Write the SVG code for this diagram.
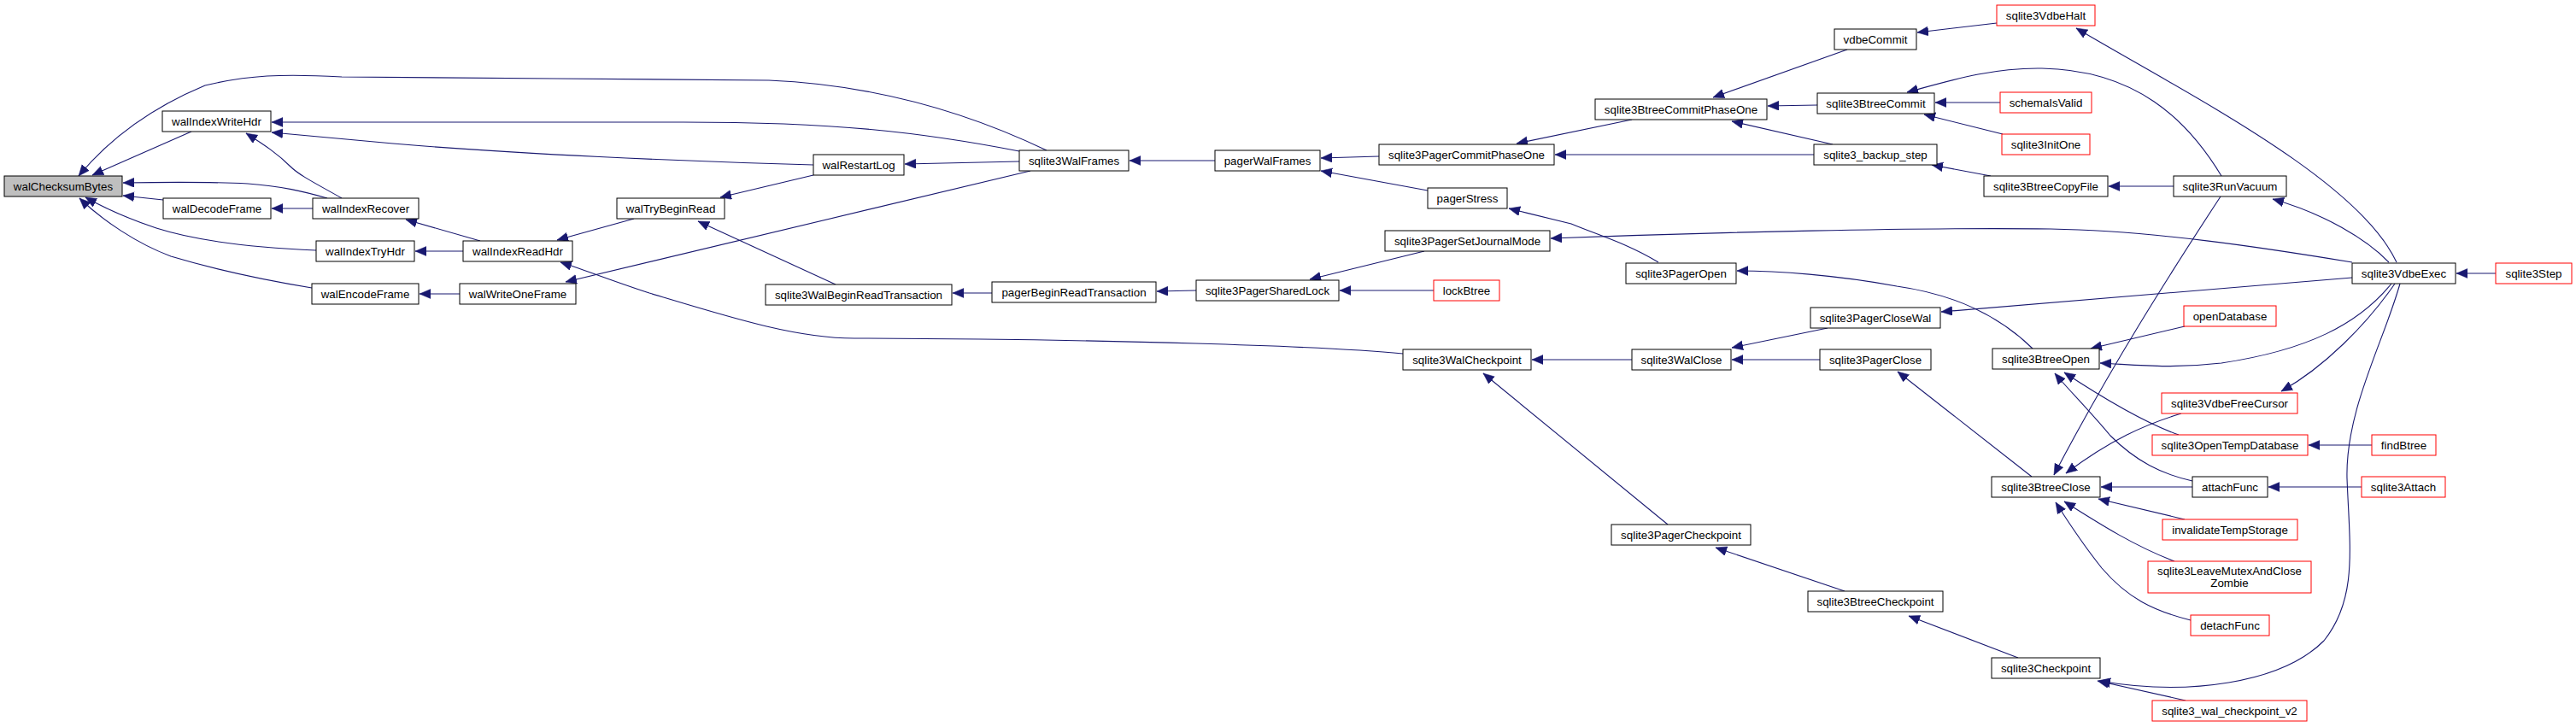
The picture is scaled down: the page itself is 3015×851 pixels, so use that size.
<svg xmlns="http://www.w3.org/2000/svg" width="3015" height="851" viewBox="0 0 3015 851">
<style>
.n rect{fill:#fff;stroke:#000;stroke-width:1}
.n.r rect{stroke:#ff0000}
.n.g rect{fill:#bfbfbf}
.n text{font-family:"Liberation Sans",Arial,sans-serif;font-size:13.33px;text-anchor:middle;fill:#000}
#edges path{fill:none;stroke:#191970;stroke-width:1.1;marker-end:url(#a)}
</style>
<defs>
<marker id="a" markerUnits="userSpaceOnUse" markerWidth="14" markerHeight="12" refX="13" refY="5.5" orient="auto">
<path d="M0,0 L13,5.5 L0,11 z" fill="#191970" stroke="#191970" stroke-width="0.5"/>
</marker>
</defs>
<rect width="3015" height="851" fill="#fff"/>
<g id="edges">
<path d="M1225,176 C1150,140 1040,100 900,94 C800,92 500,92 400,90 C330,86 290,88 240,100 C180,125 130,160 92,206"/>
<path d="M224,154 L108,205"/>
<path d="M383,232 C355,224 330,218 290,215 C250,213 200,213 144,214"/>
<path d="M191,234 L144,229"/>
<path d="M370,293 C300,290 230,282 183,267 C150,256 125,245 100,231"/>
<path d="M365,337 C310,328 250,315 200,300 C160,285 120,258 93,232"/>
<path d="M1193,177 C1080,155 980,143 800,143 L318,143"/>
<path d="M952,193 C800,189 600,180 460,168 C390,162 350,158 318,155"/>
<path d="M400,232 C370,215 350,205 340,195 C325,180 310,170 288,156"/>
<path d="M366,244 L318,244"/>
<path d="M562,282 L475,257"/>
<path d="M542,294 L486,294"/>
<path d="M742,256 L652,281"/>
<path d="M1642,414 C1550,405 1300,397 1000,396 C930,396 850,370 760,343 C720,330 690,318 656,307"/>
<path d="M538,344 L491,344"/>
<path d="M1206,200 L662,330"/>
<path d="M952,205 L843,231"/>
<path d="M978,333 L817,259"/>
<path d="M1193,189 L1059,192"/>
<path d="M1161,343 L1115,343"/>
<path d="M1422,188 L1322,188"/>
<path d="M1400,340 L1354,341"/>
<path d="M1614,183 L1546,185"/>
<path d="M1671,223 L1546,200"/>
<path d="M1910,140 L1775,168"/>
<path d="M2123,181 L1820,181"/>
<path d="M1667,294 L1533,327"/>
<path d="M1678,340 L1568,340"/>
<path d="M1941,307 C1905,285 1870,275 1839,262 C1810,255 1790,250 1766,244"/>
<path d="M2753,307 C2650,290 2520,270 2400,268 C2250,266 2000,272 1815,279"/>
<path d="M1910,421 L1793,421"/>
<path d="M1952,614 L1736,437"/>
<path d="M2162,58 L2005,114"/>
<path d="M2127,123 L2069,124"/>
<path d="M2145,169 L2027,142"/>
<path d="M2337,27 L2244,38"/>
<path d="M2600,206 C2560,140 2500,82 2390,80 C2330,79 2280,95 2232,108"/>
<path d="M2341,120 L2265,120"/>
<path d="M2344,157 L2252,134"/>
<path d="M2330,206 L2261,193"/>
<path d="M2544,218 L2468,218"/>
<path d="M2805,307 C2760,210 2560,110 2430,33"/>
<path d="M2796,307 C2770,280 2720,250 2660,233"/>
<path d="M2599,230 C2540,320 2470,430 2404,556"/>
<path d="M2753,325 L2272,365"/>
<path d="M2379,408 C2340,370 2290,345 2220,335 C2150,322 2080,317 2033,317"/>
<path d="M2557,382 L2447,408"/>
<path d="M2799,332 C2760,380 2700,410 2600,425 C2540,432 2500,427 2458,425"/>
<path d="M2550,509 C2510,495 2460,465 2416,436"/>
<path d="M2566,563 C2530,555 2500,540 2470,510 C2445,480 2420,455 2405,437"/>
<path d="M2378,558 L2221,435"/>
<path d="M2139,384 L2027,407"/>
<path d="M2130,421 L2027,421"/>
<path d="M2159,692 L2008,641"/>
<path d="M2362,770 L2234,721"/>
<path d="M2809,332 C2790,400 2745,480 2747,560 C2750,640 2760,700 2720,750 C2670,800 2560,815 2457,797"/>
<path d="M2558,820 L2455,797"/>
<path d="M2553,484 C2510,497 2470,515 2418,554"/>
<path d="M2803,332 C2770,380 2720,430 2670,458"/>
<path d="M2566,570 L2459,570"/>
<path d="M2776,521 L2702,521"/>
<path d="M2764,570 L2655,570"/>
<path d="M2557,608 L2456,584"/>
<path d="M2545,657 C2500,640 2460,615 2416,587"/>
<path d="M2564,726 C2520,715 2490,700 2460,665 C2440,640 2420,610 2406,588"/>
<path d="M2921,320 L2875,320"/>
</g>
<g id="walChecksumBytes" class="n g"><rect x="5" y="206" width="138" height="24"/><text x="74" y="223">walChecksumBytes</text></g>
<g id="walIndexWriteHdr" class="n"><rect x="190" y="130" width="127" height="24"/><text x="253.5" y="147">walIndexWriteHdr</text></g>
<g id="walDecodeFrame" class="n"><rect x="191" y="232" width="126" height="24"/><text x="254" y="249">walDecodeFrame</text></g>
<g id="walIndexRecover" class="n"><rect x="366" y="232" width="124" height="24"/><text x="428" y="249">walIndexRecover</text></g>
<g id="walIndexTryHdr" class="n"><rect x="370" y="282" width="115" height="24"/><text x="427.5" y="299">walIndexTryHdr</text></g>
<g id="walEncodeFrame" class="n"><rect x="365" y="332" width="125" height="24"/><text x="427.5" y="349">walEncodeFrame</text></g>
<g id="walIndexReadHdr" class="n"><rect x="542" y="282" width="128" height="24"/><text x="606" y="299">walIndexReadHdr</text></g>
<g id="walWriteOneFrame" class="n"><rect x="538" y="332" width="136" height="24"/><text x="606" y="349">walWriteOneFrame</text></g>
<g id="walTryBeginRead" class="n"><rect x="722" y="232" width="126" height="24"/><text x="785" y="249">walTryBeginRead</text></g>
<g id="walRestartLog" class="n"><rect x="952" y="181" width="106" height="24"/><text x="1005" y="198">walRestartLog</text></g>
<g id="sqlite3WalFrames" class="n"><rect x="1193" y="176" width="128" height="24"/><text x="1257" y="193">sqlite3WalFrames</text></g>
<g id="sqlite3WalBeginReadTransaction" class="n"><rect x="896" y="333" width="218" height="24"/><text x="1005" y="350">sqlite3WalBeginReadTransaction</text></g>
<g id="pagerBeginReadTransaction" class="n"><rect x="1161" y="330" width="192" height="24"/><text x="1257" y="347">pagerBeginReadTransaction</text></g>
<g id="pagerWalFrames" class="n"><rect x="1422" y="176" width="123" height="24"/><text x="1483.5" y="193">pagerWalFrames</text></g>
<g id="sqlite3PagerSharedLock" class="n"><rect x="1400" y="328" width="167" height="24"/><text x="1483.5" y="345">sqlite3PagerSharedLock</text></g>
<g id="sqlite3PagerCommitPhaseOne" class="n"><rect x="1614" y="169" width="205" height="24"/><text x="1716.5" y="186">sqlite3PagerCommitPhaseOne</text></g>
<g id="pagerStress" class="n"><rect x="1671" y="220" width="93" height="24"/><text x="1717.5" y="237">pagerStress</text></g>
<g id="sqlite3PagerSetJournalMode" class="n"><rect x="1621" y="270" width="193" height="24"/><text x="1717.5" y="287">sqlite3PagerSetJournalMode</text></g>
<g id="lockBtree" class="n r"><rect x="1678" y="328" width="77" height="24"/><text x="1716.5" y="345">lockBtree</text></g>
<g id="sqlite3WalCheckpoint" class="n"><rect x="1642" y="409" width="150" height="24"/><text x="1717" y="426">sqlite3WalCheckpoint</text></g>
<g id="sqlite3BtreeCommitPhaseOne" class="n"><rect x="1867" y="116" width="201" height="24"/><text x="1967.5" y="133">sqlite3BtreeCommitPhaseOne</text></g>
<g id="vdbeCommit" class="n"><rect x="2147" y="34" width="96" height="24"/><text x="2195" y="51">vdbeCommit</text></g>
<g id="sqlite3BtreeCommit" class="n"><rect x="2127" y="109" width="137" height="24"/><text x="2195.5" y="126">sqlite3BtreeCommit</text></g>
<g id="sqlite3_backup_step" class="n"><rect x="2123" y="169" width="144" height="24"/><text x="2195" y="186">sqlite3_backup_step</text></g>
<g id="sqlite3PagerOpen" class="n"><rect x="1903" y="308" width="129" height="24"/><text x="1967.5" y="325">sqlite3PagerOpen</text></g>
<g id="sqlite3WalClose" class="n"><rect x="1910" y="409" width="116" height="24"/><text x="1968" y="426">sqlite3WalClose</text></g>
<g id="sqlite3PagerCloseWal" class="n"><rect x="2119" y="360" width="152" height="24"/><text x="2195" y="377">sqlite3PagerCloseWal</text></g>
<g id="sqlite3PagerClose" class="n"><rect x="2130" y="409" width="130" height="24"/><text x="2195" y="426">sqlite3PagerClose</text></g>
<g id="sqlite3PagerCheckpoint" class="n"><rect x="1886" y="614" width="163" height="24"/><text x="1967.5" y="631">sqlite3PagerCheckpoint</text></g>
<g id="sqlite3BtreeCheckpoint" class="n"><rect x="2116" y="692" width="158" height="24"/><text x="2195" y="709">sqlite3BtreeCheckpoint</text></g>
<g id="sqlite3Checkpoint" class="n"><rect x="2331" y="770" width="127" height="24"/><text x="2394.5" y="787">sqlite3Checkpoint</text></g>
<g id="sqlite3VdbeHalt" class="n r"><rect x="2337" y="6" width="115" height="24"/><text x="2394.5" y="23">sqlite3VdbeHalt</text></g>
<g id="schemaIsValid" class="n r"><rect x="2341" y="108" width="107" height="24"/><text x="2394.5" y="125">schemaIsValid</text></g>
<g id="sqlite3InitOne" class="n r"><rect x="2343" y="157" width="103" height="24"/><text x="2394.5" y="174">sqlite3InitOne</text></g>
<g id="sqlite3BtreeCopyFile" class="n"><rect x="2322" y="206" width="145" height="24"/><text x="2394.5" y="223">sqlite3BtreeCopyFile</text></g>
<g id="sqlite3RunVacuum" class="n"><rect x="2544" y="206" width="132" height="24"/><text x="2610" y="223">sqlite3RunVacuum</text></g>
<g id="sqlite3BtreeOpen" class="n"><rect x="2332" y="408" width="125" height="24"/><text x="2394.5" y="425">sqlite3BtreeOpen</text></g>
<g id="openDatabase" class="n r"><rect x="2556" y="358" width="108" height="24"/><text x="2610" y="375">openDatabase</text></g>
<g id="sqlite3VdbeFreeCursor" class="n r"><rect x="2530" y="460" width="159" height="24"/><text x="2609.5" y="477">sqlite3VdbeFreeCursor</text></g>
<g id="sqlite3OpenTempDatabase" class="n r"><rect x="2519" y="509" width="182" height="24"/><text x="2610" y="526">sqlite3OpenTempDatabase</text></g>
<g id="sqlite3BtreeClose" class="n"><rect x="2331" y="558" width="127" height="24"/><text x="2394.5" y="575">sqlite3BtreeClose</text></g>
<g id="attachFunc" class="n"><rect x="2566" y="558" width="88" height="24"/><text x="2610" y="575">attachFunc</text></g>
<g id="invalidateTempStorage" class="n r"><rect x="2531" y="608" width="158" height="24"/><text x="2610" y="625">invalidateTempStorage</text></g>
<g id="sqlite3LeaveMutexAndCloseZombie" class="n r"><rect x="2514" y="657" width="191" height="37"/><text x="2609.5" y="673">sqlite3LeaveMutexAndClose</text><text x="2609.5" y="687">Zombie</text></g>
<g id="detachFunc" class="n r"><rect x="2564" y="720" width="92" height="24"/><text x="2610" y="737">detachFunc</text></g>
<g id="sqlite3_wal_checkpoint_v2" class="n r"><rect x="2519" y="820" width="181" height="24"/><text x="2609.5" y="837">sqlite3_wal_checkpoint_v2</text></g>
<g id="sqlite3VdbeExec" class="n"><rect x="2753" y="308" width="121" height="24"/><text x="2813.5" y="325">sqlite3VdbeExec</text></g>
<g id="sqlite3Step" class="n r"><rect x="2921" y="308" width="89" height="24"/><text x="2965.5" y="325">sqlite3Step</text></g>
<g id="findBtree" class="n r"><rect x="2776" y="509" width="75" height="24"/><text x="2813.5" y="526">findBtree</text></g>
<g id="sqlite3Attach" class="n r"><rect x="2764" y="558" width="98" height="24"/><text x="2813" y="575">sqlite3Attach</text></g>
</svg>
